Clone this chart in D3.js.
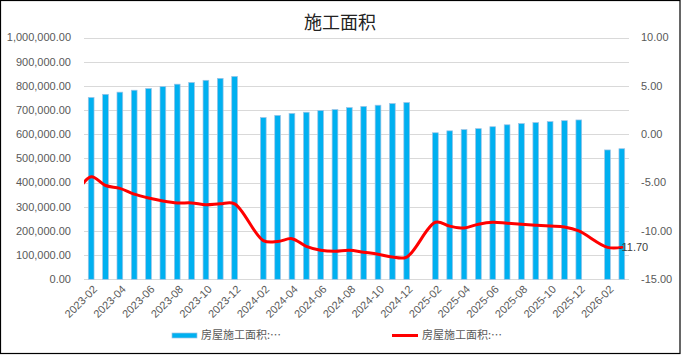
<!DOCTYPE html>
<html><head><meta charset="utf-8">
<script src="https://cdn.jsdelivr.net/npm/d3@7"></script>
<style>
html,body{margin:0;padding:0;background:#fff;}
svg{display:block;font-family:"Liberation Sans",Arial,sans-serif;}
</style></head>
<body>
<svg id="c" width="681" height="355"></svg>
<script>
const title = "施工面积";
const categories = [
 "2023-02","2023-03","2023-04","2023-05","2023-06","2023-07","2023-08","2023-09","2023-10","2023-11","2023-12",
 "2024-01",
 "2024-02","2024-03","2024-04","2024-05","2024-06","2024-07","2024-08","2024-09","2024-10","2024-11","2024-12",
 "2025-01",
 "2025-02","2025-03","2025-04","2025-05","2025-06","2025-07","2025-08","2025-09","2025-10","2025-11","2025-12",
 "2026-01",
 "2026-02","2026-03"
];
const areaValues = [
 752000,765000,774000,782000,789000,797000,807000,814000,823000,831000,839000,
 null,
 669000,678000,686000,691000,698000,702000,710000,715000,720000,727000,731000,
 null,
 606000,614000,619000,623000,631000,639000,644000,648000,652000,656000,659000,
 null,
 535000,540000
];
const growthValues = [
 -4.4,-5.3,-5.6,-6.2,-6.6,-6.9,-7.1,-7.1,-7.3,-7.2,-7.2,
 null,
 -11.0,-11.1,-10.8,-11.6,-12.0,-12.1,-12.0,-12.2,-12.4,-12.7,-12.7,
 null,
 -9.1,-9.5,-9.7,-9.3,-9.1,-9.2,-9.3,-9.4,-9.5,-9.6,-10.0,
 null,
 -11.7,-11.7
];
// value of the month before the first category (drawn, clipped at the plot edge)
const leadInGrowth = -6.0;
const leftTicks = [0,100000,200000,300000,400000,500000,600000,700000,800000,900000,1000000];
const rightTicks = [-15,-10,-5,0,5,10];
const legendLabels = ["房屋施工面积:…","房屋施工面积:…"];

const W = 681, H = 355;
const m = {left:84, right:629, top:37.5, bottom:279.3};
const svg = d3.select("#c");

svg.append("rect").attr("x",0.5).attr("y",0.5).attr("width",W-1.5).attr("height",H-2)
  .attr("fill","#fff").attr("stroke","#000").attr("stroke-width",1.2);

const x = d3.scaleBand().domain(categories).range([m.left,m.right]).paddingInner(0).paddingOuter(0);
const step = x.step();
const xc = i => x(categories[0]) + step*(i+0.5);
const yL = d3.scaleLinear().domain([0,1000000]).range([m.bottom,m.top]);
const yR = d3.scaleLinear().domain([-15,10]).range([m.bottom,m.top]);

// gridlines
svg.append("g").selectAll("line").data(leftTicks).join("line")
  .attr("x1",m.left).attr("x2",m.right)
  .attr("y1",d=>Math.round(yL(d))+0.5).attr("y2",d=>Math.round(yL(d))+0.5)
  .attr("stroke","#d9d9d9").attr("stroke-width",1);

// left axis labels
const fmtL = d3.format(",.2f");
svg.append("g").selectAll("text").data(leftTicks).join("text")
  .attr("x",71).attr("y",d=>yL(d)).attr("dy","0.35em")
  .attr("text-anchor","end").attr("font-size",11).attr("fill","#595959")
  .text(d=>fmtL(d));

// right axis labels
const fmtR = d3.format(".2f");
svg.append("g").selectAll("text").data(rightTicks).join("text")
  .attr("x",641).attr("y",d=>yR(d)).attr("dy","0.35em")
  .attr("text-anchor","start").attr("font-size",11).attr("fill","#595959")
  .text(d=>fmtR(d).replace("−","-"));

// bars
const bw = step*0.4;
svg.append("g").selectAll("rect")
  .data(categories.map((c,i)=>({c,v:areaValues[i]})).filter(d=>d.v!=null))
  .join("rect")
  .attr("x",d=>x(d.c)+step/2-bw/2).attr("width",bw)
  .attr("y",d=>yL(d.v)).attr("height",d=>yL(0)-yL(d.v))
  .attr("fill","#00b0f0").attr("stroke","#9dc3e6").attr("stroke-width",0.7);

// x labels
svg.append("g").selectAll("text")
  .data(categories.filter((c,i)=>i%2===0))
  .join("text")
  .attr("transform",d=>`translate(${x(d)+step/2+4},${m.bottom+8}) rotate(-45)`)
  .attr("text-anchor","end").attr("dy","0.35em")
  .attr("font-size",11).attr("fill","#595959")
  .text(d=>d);

// line
svg.append("defs").append("clipPath").attr("id","pc").append("rect")
  .attr("x",m.left).attr("y",0).attr("width",m.right-m.left).attr("height",H);
const pts = [{i:-1,v:leadInGrowth}].concat(
  growthValues.map((v,i)=>({i,v})).filter(d=>d.v!=null));
const line = d3.line().x(d=>xc(d.i)).y(d=>yR(d.v)).curve(d3.curveCatmullRom.alpha(0.5));
svg.append("path").attr("d",line(pts)).attr("clip-path","url(#pc)")
  .attr("fill","none").attr("stroke","#ff0000").attr("stroke-width",3)
  .attr("stroke-linejoin","round").attr("stroke-linecap","round");

// data label on last point
const lastI = growthValues.length-1;
svg.append("text").attr("x",xc(lastI)-4).attr("y",yR(growthValues[lastI]))
  .attr("dy","0.35em").attr("font-size",11).attr("fill","#404040")
  .text(fmtR(growthValues[lastI]).replace("−","-"));

// title
svg.append("text").attr("x",340).attr("y",23).attr("dy","0.35em")
  .attr("text-anchor","middle").attr("font-size",18)
  .attr("font-family","'Noto Sans CJK SC',sans-serif").attr("fill","#222")
  .text(title);

// legend
const lg = svg.append("g");
lg.append("rect").attr("x",172).attr("y",333).attr("width",25).attr("height",5)
  .attr("fill","#00b0f0").attr("stroke","#9dc3e6").attr("stroke-width",0.7);
lg.append("text").attr("x",201).attr("y",335.5).attr("dy","0.35em")
  .attr("font-size",11).attr("fill","#595959")
  .attr("font-family","'Noto Sans CJK SC',sans-serif").text(legendLabels[0]);
lg.append("line").attr("x1",392).attr("x2",418).attr("y1",335.5).attr("y2",335.5)
  .attr("stroke","#ff0000").attr("stroke-width",3);
lg.append("text").attr("x",422).attr("y",335.5).attr("dy","0.35em")
  .attr("font-size",11).attr("fill","#595959")
  .attr("font-family","'Noto Sans CJK SC',sans-serif").text(legendLabels[1]);
</script>
</body></html>
